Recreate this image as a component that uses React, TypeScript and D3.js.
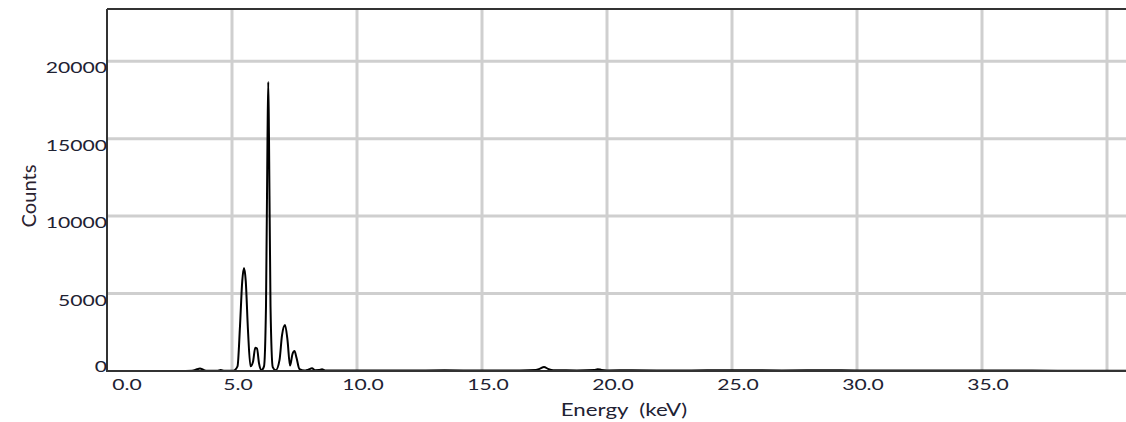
import React, { useEffect, useRef } from 'react';
import * as d3 from 'd3';

// spectrum points (keV, counts)
const energies = [
  0.0, 2.9, 3.4, 3.6, 3.72, 3.85, 4.0, 4.4, 4.55, 4.7, 5.05,
  5.22, 5.32, 5.41, 5.48, 5.55, 5.64, 5.74, 5.84, 5.93, 6.0, 6.08, 6.18,
  6.28, 6.36, 6.42, 6.45, 6.48, 6.54, 6.63, 6.75,
  6.9, 7.0, 7.12, 7.22, 7.32, 7.42, 7.5, 7.58, 7.7, 7.9,
  8.05, 8.2, 8.32, 8.48, 8.6, 8.72, 9.0,
  10.5, 12.0, 13.5, 15.0, 16.5, 17.15, 17.32, 17.48, 17.64, 17.85,
  18.8, 19.5, 19.62, 19.78, 20.0, 21.0, 23.0, 25.0, 27.0, 29.0, 31.0, 33.0, 35.0, 37.0, 39.0, 40.8,
];
const counts = [
  0, 0, 20, 110, 160, 80, 15, 20, 60, 20, 20,
  300, 2900, 5800, 6650, 5800, 2600, 300, 600, 1500, 1450, 500, 60,
  300, 4200, 15000, 18650, 15000, 4200, 250, 50,
  700, 2300, 2970, 2000, 350, 1100, 1290, 850, 120, 30,
  90, 170, 50, 60, 120, 40, 30,
  40, 30, 45, 35, 40, 60, 150, 260, 140, 45,
  40, 60, 120, 70, 40, 45, 35, 50, 40, 45, 30, 35, 40, 25, 20, 15,
];

const xTicks = [0, 5, 10, 15, 20, 25, 30, 35, 40];
const xLabels = ['0.0', '5.0', '10.0', '15.0', '20.0', '25.0', '30.0', '35.0', ''];
const yTicks = [0, 5000, 10000, 15000, 20000];

const App = () => {
  const ref = useRef<SVGSVGElement | null>(null);

  useEffect(() => {
    const svg = d3.select(ref.current);
    svg.selectAll('*').remove();

    const left = 107, top = 9, right = 1126, bottom = 371;
    const x = d3.scaleLinear().domain([0, 40.76]).range([left, right]);
    const y = d3.scaleLinear().domain([0, 23370]).range([bottom, top]);

    const font = 'Lato, "Open Sans", sans-serif';
    const ink = '#1e2233';
    const stretch = 1.32; // the original lettering is wide

    // grid
    svg.append('g').selectAll('line').data(xTicks.slice(1)).enter().append('line')
      .attr('x1', d => x(d)).attr('x2', d => x(d))
      .attr('y1', top).attr('y2', bottom)
      .attr('stroke', '#cfcfcf').attr('stroke-width', 3);
    svg.append('g').selectAll('line').data(yTicks.slice(1)).enter().append('line')
      .attr('x1', left).attr('x2', right)
      .attr('y1', d => y(d)).attr('y2', d => y(d))
      .attr('stroke', '#cfcfcf').attr('stroke-width', 3);

    // spectrum
    const pts = energies.map((e, i) => [e, counts[i]] as [number, number]);
    const line = d3.line<[number, number]>()
      .x(d => x(d[0]))
      .y(d => y(d[1]))
      .curve(d3.curveMonotoneX);
    svg.append('path').datum(pts)
      .attr('d', line)
      .attr('fill', 'none')
      .attr('stroke', '#000')
      .attr('stroke-width', 2);

    // frame
    svg.append('line').attr('x1', left).attr('x2', right).attr('y1', top).attr('y2', top)
      .attr('stroke', '#333').attr('stroke-width', 2);
    svg.append('line').attr('x1', left).attr('x2', left).attr('y1', top).attr('y2', bottom + 1)
      .attr('stroke', '#333').attr('stroke-width', 2);
    svg.append('line').attr('x1', left).attr('x2', right).attr('y1', bottom).attr('y2', bottom)
      .attr('stroke', '#333').attr('stroke-width', 2);

    // x tick labels
    svg.append('g').selectAll('text').data(xTicks).enter().append('text')
      .attr('transform', d => `translate(${d === 0 ? x(d) + 20 : x(d) + 6},390) scale(${stretch},1)`)
      .attr('text-anchor', 'middle')
      .attr('font-family', font).attr('font-size', 16)
      .attr('fill', ink)
      .text((d, i) => xLabels[i]);

    // y tick labels
    svg.append('g').selectAll('text').data(yTicks).enter().append('text')
      .attr('transform', d => `translate(${left},${d === 0 ? y(d) + 1 : y(d) + 12}) scale(${stretch},1)`)
      .attr('text-anchor', 'end')
      .attr('font-family', font).attr('font-size', 16)
      .attr('fill', ink)
      .text(d => String(d));

    // axis titles
    svg.append('text')
      .attr('transform', `translate(624,416) scale(1.35,1)`)
      .attr('text-anchor', 'middle')
      .attr('font-family', font).attr('font-size', 16.5)
      .attr('fill', ink)
      .attr('xml:space', 'preserve')
      .text('Energy  (keV)');
    svg.append('text')
      .attr('transform', 'translate(36,196) rotate(-90)')
      .attr('text-anchor', 'middle')
      .attr('font-family', font).attr('font-size', 20)
      .attr('textLength', 63).attr('lengthAdjust', 'spacingAndGlyphs')
      .attr('fill', '#2a2230')
      .text('Counts');
  }, []);

  return (
    <svg ref={ref} width={1126} height={422}
      style={{ position: 'absolute', left: 0, top: 0, background: '#fff' }} />
  );
};

export default App;
